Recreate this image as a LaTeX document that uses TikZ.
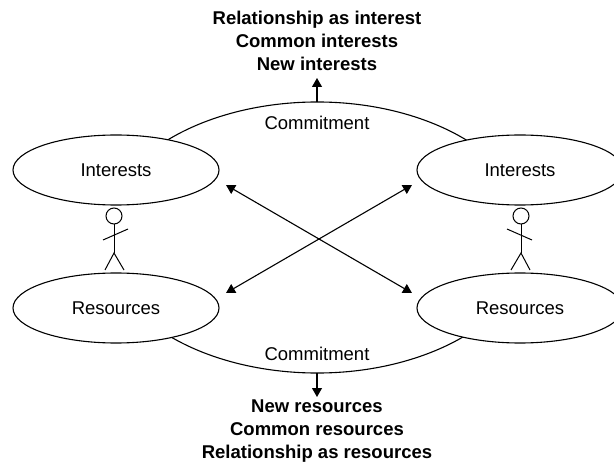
\documentclass[tikz,border=0pt]{standalone}
\usepackage{fontspec}
\setmainfont{Liberation Sans}
\usetikzlibrary{arrows.meta,shapes.geometric}

\tikzset{
  every node/.style={font=\fontsize{18.5}{22.8}\selectfont},
  party/.style={ellipse, draw, line width=1.1pt, fill=white, inner sep=0pt,
    minimum width=206pt, minimum height=70pt},
  tie/.style={line width=1.1pt, {Triangle[length=9pt,width=10pt]}-{Triangle[length=9pt,width=10pt]}},
  gain/.style={line width=1.1pt, -{Triangle[length=9pt,width=10pt]}},
  gaintext/.style={align=center, font=\fontsize{18.5}{22.8}\selectfont\bfseries},
}

\begin{document}
\begin{tikzpicture}[x=1pt,y=-1pt]
                \useasboundingbox (0,0) rectangle (614,468);
                \clip (0,0) rectangle (614,468);
                % Compromiso
                \node[ellipse, inner sep=0pt,
                  minimum width=430pt, minimum height=271pt] (commit) at (317,237.5) {};
                \draw[line width=1.1pt] (130.8,169.75) arc (210:330:215 and 135.5);
                \draw[line width=1.1pt] (130.8,305.25) arc (150:30:215 and 135.5);
                \node (commitTop) at (317,123) {Commitment};
                \node (commitBot) at (317,354) {Commitment};
                % Partes
                \node[party] (intL) at (116,170) {Interests};
                \node[party] (resL) at (116,308) {Resources};
                \node[party] (intR) at (520,170) {Interests};
                \node[party] (resR) at (520,308) {Resources};
                % Personas
                \foreach \x/\s in {114/1,521/-1}{
                  \begin{scope}[shift={(\x,0)}, xscale=\s, line width=1pt]
                    \draw (0,216) circle [radius=8];
                    \draw (0,224) -- (0,253);
                    \draw (-9,270) -- (0,253) -- (10,270);
                    \draw (-11,240) -- (14,229);
                  \end{scope}
                }
                % Flechas cruzadas
                \coordinate (tipIL) at (226,185);
                \coordinate (tipRL) at (226,293);
                \coordinate (tipIR) at (412,185);
                \coordinate (tipRR) at (412,293);
                \draw[tie] (tipIL) -- (tipRR);
                \draw[tie] (tipRL) -- (tipIR);
                % Resultados
                \coordinate (topTip) at (317,78);
                \coordinate (botTip) at (317,397);
                \draw[gain] (commit.north) -- (topTip);
                \draw[gain] (commit.south) -- (botTip);
                \node[gaintext] (topGain) at (317,41) {Relationship as interest\\Common interests\\New interests};
                \node[gaintext] (botGain) at (317,431) {New resources\\Common resources\\Relationship as resources};
                \end{tikzpicture}
\end{document}
